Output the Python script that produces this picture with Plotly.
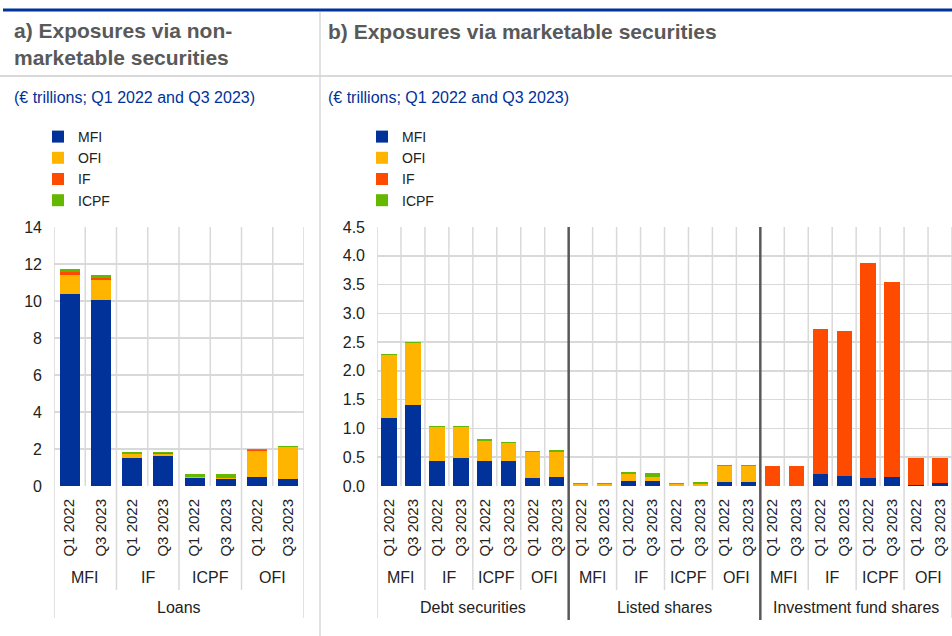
import plotly.graph_objects as go

W, H = 952, 636

# ---------------- data ----------------
sectors = ["MFI", "OFI", "IF", "ICPF"]
colors = {"MFI": "#003299", "OFI": "#FFB400", "IF": "#FF4B00", "ICPF": "#65B800"}
periods = ["Q1 2022", "Q3 2023"]
holders = ["MFI", "IF", "ICPF", "OFI"]

# panel a) Loans : 8 bars (holder x period)
loans_mfi = [10.40, 10.05, 1.53, 1.60, 0.41, 0.36, 0.49, 0.36]
loans_ofi = [1.00, 1.10, 0.20, 0.15, 0.05, 0.06, 1.38, 1.74]
loans_if = [0.15, 0.10, 0.02, 0.02, 0.02, 0.01, 0.08, 0.01]
loans_icpf = [0.20, 0.18, 0.07, 0.05, 0.15, 0.20, 0.05, 0.07]

# panel b) Debt securities | Listed shares | Investment fund shares : 24 bars
sections_b = ["Debt securities", "Listed shares", "Investment fund shares"]
mkt_mfi = [1.18, 1.41, 0.43, 0.48, 0.43, 0.43, 0.14, 0.16,
           0.00, 0.00, 0.09, 0.09, 0.00, 0.00, 0.07, 0.07,
           0.00, 0.00, 0.20, 0.18, 0.14, 0.16, 0.02, 0.05]
mkt_ofi = [1.09, 1.07, 0.60, 0.55, 0.35, 0.31, 0.45, 0.43,
           0.03, 0.03, 0.11, 0.07, 0.03, 0.03, 0.27, 0.27,
           0.00, 0.00, 0.00, 0.00, 0.00, 0.00, 0.00, 0.00]
mkt_if = [0.00, 0.00, 0.00, 0.00, 0.00, 0.00, 0.00, 0.00,
          0.00, 0.00, 0.00, 0.00, 0.00, 0.00, 0.00, 0.00,
          0.35, 0.35, 2.53, 2.52, 3.74, 3.39, 0.47, 0.44]
mkt_icpf = [0.03, 0.02, 0.02, 0.02, 0.03, 0.02, 0.02, 0.04,
            0.02, 0.02, 0.04, 0.06, 0.02, 0.035, 0.03, 0.03,
            0.00, 0.00, 0.00, 0.00, 0.00, 0.00, 0.00, 0.00]

yticks_a = [0, 2, 4, 6, 8, 10, 12, 14]
yticks_b = [0.0, 0.5, 1.0, 1.5, 2.0, 2.5, 3.0, 3.5, 4.0, 4.5]

# --------------- helpers ----------------
def px(x):
    return x / W

def py(y):
    return 1 - y / H

n_a = len(holders) * len(periods)
n_b = len(sections_b) * n_a
xa = list(range(n_a))
xb = list(range(n_b))
lab_a = periods * len(holders)
lab_b = periods * len(holders) * len(sections_b)

fig = go.Figure()
series_a = {"MFI": loans_mfi, "OFI": loans_ofi, "IF": loans_if, "ICPF": loans_icpf}
series_b = {"MFI": mkt_mfi, "OFI": mkt_ofi, "IF": mkt_if, "ICPF": mkt_icpf}
for s in sectors:
    fig.add_trace(go.Bar(x=xa, y=series_a[s], name=s, marker_color=colors[s],
                         marker_line_width=0, width=0.64, xaxis="x", yaxis="y",
                         legend="legend"))
for s in sectors:
    fig.add_trace(go.Bar(x=xb, y=series_b[s], name=s, marker_color=colors[s],
                         marker_line_width=0, width=0.64, xaxis="x2", yaxis="y2",
                         legend="legend2"))

FONT = "Liberation Sans, Arial, sans-serif"
TXT = "#222222"
GRID = "#d9d9d9"

plot_top, plot_bot = 227, 486
ax_common = dict(showgrid=False, zeroline=False, showline=False, automargin=False,
                 tickangle=-90, tickfont=dict(size=15, color=TXT, family=FONT),
                 ticks="", ticklabelstandoff=9, fixedrange=True)
ay_common = dict(showgrid=True, gridcolor=GRID, gridwidth=1.5, zeroline=False,
                 showline=False, automargin=False,
                 tickfont=dict(size=16, color=TXT, family=FONT),
                 ticks="", ticklabelstandoff=11, fixedrange=True)

fig.update_layout(
    template="none",
    width=W, height=H, autosize=False,
    margin=dict(l=0, r=0, t=0, b=0, pad=0, autoexpand=False),
    paper_bgcolor="white", plot_bgcolor="white",
    barmode="stack", bargap=0.36,
    font=dict(family=FONT, color=TXT),
    showlegend=True,
    hovermode=False,
    xaxis=dict(domain=[px(54), px(304)], range=[-0.5, n_a - 0.5],
               tickvals=xa, ticktext=lab_a, anchor="y", **ax_common),
    yaxis=dict(domain=[py(plot_bot), py(plot_top)], range=[0, 14],
               tickvals=yticks_a, ticktext=[str(v) for v in yticks_a],
               anchor="x", **ay_common),
    xaxis2=dict(domain=[px(377), px(952)], range=[-0.5, n_b - 0.5],
                tickvals=xb, ticktext=lab_b, anchor="y2", **ax_common),
    yaxis2=dict(domain=[py(plot_bot), py(plot_top)], range=[0, 4.5],
                tickvals=yticks_b, ticktext=[f"{v:.1f}" for v in yticks_b],
                anchor="x2", **ay_common),
    legend=dict(x=px(38), y=py(121), xanchor="left", yanchor="top",
                traceorder="normal", font=dict(size=14, color=TXT, family=FONT),
                bgcolor="rgba(0,0,0,0)", borderwidth=0, itemclick=False,
                itemdoubleclick=False, tracegroupgap=0),
    legend2=dict(x=px(362), y=py(121), xanchor="left", yanchor="top",
                 traceorder="normal", font=dict(size=14, color=TXT, family=FONT),
                 bgcolor="rgba(0,0,0,0)", borderwidth=0, itemclick=False,
                 itemdoubleclick=False, tracegroupgap=0),
)

shapes = []
annotations = []

# frame lines
shapes.append(dict(type="line", xref="paper", yref="paper", x0=px(3), x1=1,
                   y0=py(10), y1=py(10), line=dict(color="#003299", width=3)))
shapes.append(dict(type="line", xref="paper", yref="paper", x0=0, x1=1,
                   y0=py(76), y1=py(76), line=dict(color="#d9d9d9", width=2)))
shapes.append(dict(type="line", xref="paper", yref="paper", x0=px(320), x1=px(320),
                   y0=py(12), y1=0, line=dict(color="#d9d9d9", width=1.5)))

# vertical grid / separators
def vgrid(xref, n, sec_len):
    for i in range(n + 1):
        xv = i - 0.5
        if i % 2 == 1:
            y_end = plot_bot
        elif i == 0 or i == n:
            y_end = 618
        elif i % sec_len == 0:
            continue
        else:
            y_end = 590
        shapes.append(dict(type="line", xref=xref, yref="paper", x0=xv, x1=xv,
                           y0=py(plot_top), y1=py(y_end), layer="below",
                           line=dict(color=GRID, width=1.5)))
    for i in range(sec_len, n, sec_len):
        xv = i - 0.5
        shapes.append(dict(type="line", xref=xref, yref="paper", x0=xv, x1=xv,
                           y0=py(plot_top), y1=py(620), layer="above",
                           line=dict(color="#595959", width=2.5)))

vgrid("x", n_a, n_a)
vgrid("x2", n_b, n_a)

# group labels (holders) and section labels
def group_labels(xref, n_sections, section_names):
    for s in range(n_sections):
        for g, h in enumerate(holders):
            c = s * n_a + g * 2 + 0.5
            annotations.append(dict(x=c, y=py(577), xref=xref, yref="paper",
                                    text=h, showarrow=False,
                                    font=dict(size=16, color=TXT, family=FONT),
                                    xanchor="center", yanchor="middle"))
        annotations.append(dict(x=s * n_a + (n_a - 1) / 2, y=py(607), xref=xref,
                                yref="paper", text=section_names[s], showarrow=False,
                                font=dict(size=16, color=TXT, family=FONT),
                                xanchor="center", yanchor="middle"))

group_labels("x", 1, ["Loans"])
group_labels("x2", 3, sections_b)

# titles
TITLE_C = "#595959"
annotations.append(dict(x=px(12), y=py(44), xref="paper", yref="paper",
                        text="<b>a) Exposures via non-<br>marketable securities</b>",
                        showarrow=False, align="left", xanchor="left", yanchor="middle",
                        font=dict(size=21, color=TITLE_C, family=FONT)))
annotations.append(dict(x=px(326), y=py(32), xref="paper", yref="paper",
                        text="<b>b) Exposures via marketable securities</b>",
                        showarrow=False, align="left", xanchor="left", yanchor="middle",
                        font=dict(size=21, color=TITLE_C, family=FONT)))
for xx in (12, 326):
    annotations.append(dict(x=px(xx), y=py(98), xref="paper", yref="paper",
                            text="(€ trillions; Q1 2022 and Q3 2023)",
                            showarrow=False, xanchor="left", yanchor="middle",
                            font=dict(size=16, color="#003299", family=FONT)))

fig.update_layout(shapes=shapes, annotations=annotations)
fig.write_html(
    "out.html",
    config={"displayModeBar": False, "staticPlot": True},
    post_script="document.body.style.margin='0';document.body.style.overflow='hidden';",
)
